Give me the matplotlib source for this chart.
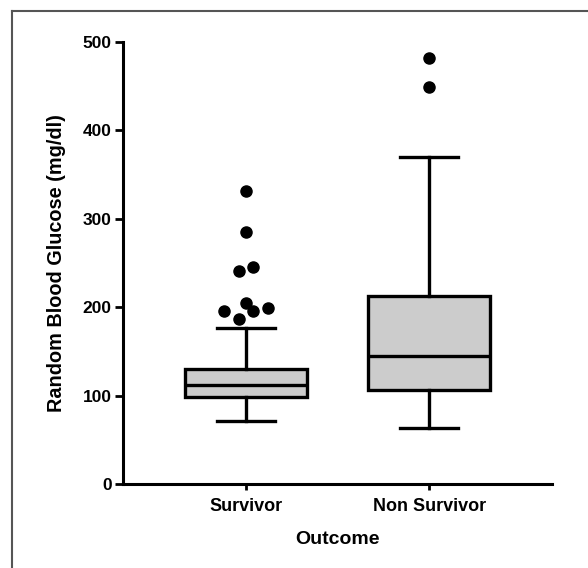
import matplotlib.pyplot as plt
from matplotlib.lines import Line2D

# values (mg/dl)
groups = ['Survivor', 'Non Survivor']
whislo = [71, 63]
q1 = [98, 106]
med = [112, 145]
q3 = [130, 213]
whishi = [177, 370]

surv_out = [196, 205, 187, 196, 199, 241, 245, 285, 331]
surv_jit = [-0.12, 0.0, -0.04, 0.04, 0.12, -0.04, 0.04, 0.0, 0.0]
nonsurv_out = [449, 482]
nonsurv_jit = [0.0, 0.0]

plt.rcParams['font.family'] = ['Liberation Sans', 'DejaVu Sans']
plt.rcParams['font.weight'] = 'bold'

fig = plt.figure(figsize=(5.88, 5.68), dpi=100)
ax = fig.add_axes([0.209, 0.148, 0.730, 0.778])

stats = []
for i in range(len(groups)):
    stats.append(dict(label=groups[i], whislo=whislo[i], q1=q1[i], med=med[i],
                      q3=q3[i], whishi=whishi[i], fliers=[]))

lw = 2.4
ax.bxp(stats, positions=[1, 2], widths=0.67, patch_artist=True, showfliers=False,
       boxprops=dict(facecolor='#cccccc', edgecolor='black', linewidth=lw),
       medianprops=dict(color='black', linewidth=lw),
       whiskerprops=dict(color='black', linewidth=lw),
       capprops=dict(color='black', linewidth=lw), capwidths=0.32)

ax.plot([1 + j for j in surv_jit], surv_out, 'o', color='black', ms=8, clip_on=False)
ax.plot([2 + j for j in nonsurv_jit], nonsurv_out, 'o', color='black', ms=8, clip_on=False)

ax.set_xlim(0.328, 2.672)
ax.set_ylim(0, 500)
ax.set_yticks([0, 100, 200, 300, 400, 500])
ax.set_xticks([1, 2])
ax.set_xticklabels(groups)

for s in ['top', 'right']:
    ax.spines[s].set_visible(False)
for s in ['left', 'bottom']:
    ax.spines[s].set_linewidth(2.2)

ax.tick_params(axis='y', length=6, width=2, labelsize=12.5, pad=2)
ax.tick_params(axis='x', length=4, width=2, labelsize=13, pad=6)
for lab in ax.get_xticklabels() + ax.get_yticklabels():
    lab.set_fontweight('bold')

ax.set_xlabel('Outcome', fontsize=14, fontweight='bold', labelpad=12)
ax.set_ylabel('Random Blood Glucose (mg/dl)', fontsize=14.3, fontweight='bold', labelpad=12)

# frame of the original panel (only top and left edges visible)
fig.add_artist(Line2D([12 / 588, 12 / 588], [0, 1 - 11 / 568], transform=fig.transFigure,
                      color='#555555', linewidth=1.5))
fig.add_artist(Line2D([12 / 588, 1], [1 - 11 / 568, 1 - 11 / 568], transform=fig.transFigure,
                      color='#555555', linewidth=1.5))

fig.savefig('out.png', dpi=100)
